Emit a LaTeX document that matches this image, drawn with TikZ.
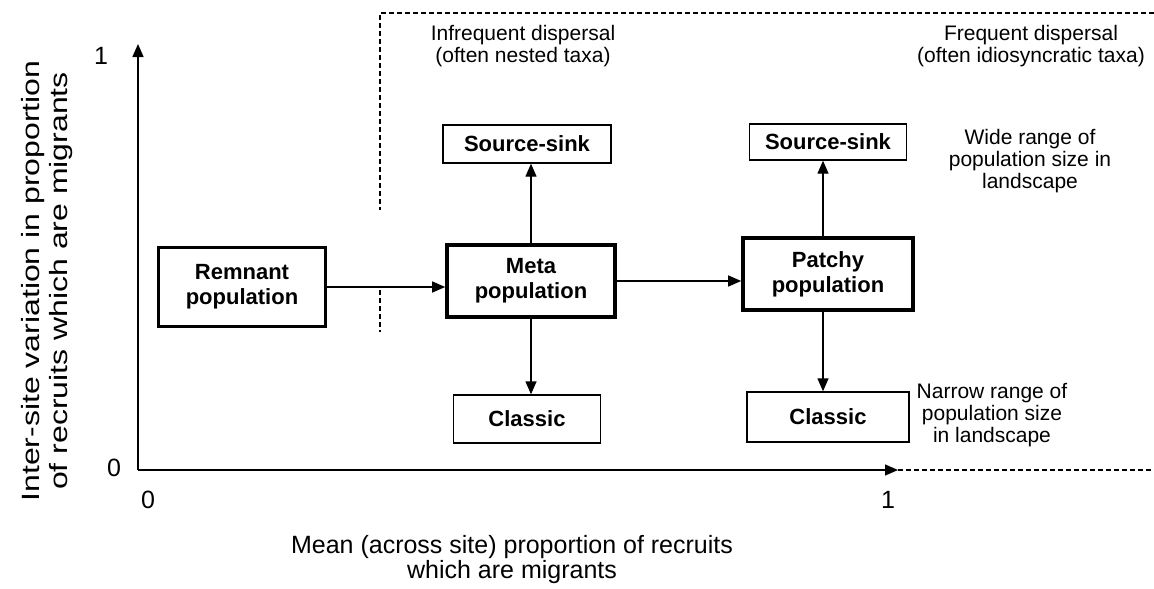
\documentclass[tikz,border=0pt]{standalone}
\usepackage{fontspec}
\setmainfont{Liberation Sans}
\usetikzlibrary{arrows.meta,positioning}

\begin{document}
\begin{tikzpicture}[
  x=1pt, y=-1pt,
  popbox/.style={draw, line width=3.6pt, fill=white, align=center, inner sep=0pt,
                 font=\fontsize{22}{25}\selectfont\bfseries},
  typebox/.style={draw, line width=1.4pt, fill=white, align=center, inner sep=0pt,
                 font=\fontsize{22}{25}\selectfont\bfseries},
  note/.style={align=center, inner sep=0pt, font=\fontsize{21}{22}\selectfont},
  axlabel/.style={align=center, inner sep=0pt, font=\fontsize{25}{25}\selectfont},
  arr/.style={-{Triangle[length=13pt, width=11pt]}, line width=1.4pt},
  region/.style={dashed, line width=1.2pt, dash pattern=on 5pt off 3pt}
]
\useasboundingbox (0,0) rectangle (1154,589);

% dispersal region
\coordinate (regtl) at (380,13);
\coordinate (regtr) at (1154,13);
\draw[region] (regtr) -- (regtl) -- (380,210);
\draw[region] (380,290) -- (380,332);

% axes
\coordinate (orig) at (138,470);
\coordinate (ytip) at (138,44);
\coordinate (xtip) at (898,470);
\coordinate (xend) at (1154,470);
\draw[arr] (orig) -- (ytip);
\draw[arr] (orig) -- (xtip);
\draw[region] (xtip) -- (xend);

\node[axlabel] (y1) at (101,56) {1};
\node[axlabel] (y0) at (114,468) {0};
\node[axlabel] (x0) at (148,500) {0};
\node[axlabel] (x1) at (888,500) {1};
\node[axlabel, rotate=90] (ylab) at (48,281)
  {\scalebox{1.28}[1]{\begin{tabular}{@{}c@{}}Inter-site variation in proportion\\[3pt]of recruits which are migrants\end{tabular}}};
\node[axlabel] (xlab) at (512,560) {Mean (across site) proportion of recruits\\which are migrants};

% population types
\node[popbox, minimum width=167pt, minimum height=79pt] (remnant) at (242,287) {Remnant\\population};
\node[popbox, minimum width=168pt, minimum height=72pt] (meta) at (531,281) {Meta\\population};
\node[popbox, minimum width=170pt, minimum height=72pt] (patchy) at (828,274) {Patchy\\population};
\node[typebox, minimum width=168pt, minimum height=38pt] (sslft) at (527,144) {Source-sink};
\node[typebox, minimum width=157pt, minimum height=36pt] (ssrgt) at (828,142) {Source-sink};
\node[typebox, minimum width=147pt, minimum height=48pt] (cllft) at (527,419) {Classic};
\node[typebox, minimum width=162pt, minimum height=50pt] (clrgt) at (828,417) {Classic};

% notes
\node[note] (infreq) at (523,46) {Infrequent dispersal\\(often nested taxa)};
\node[note] (freq) at (1031,46) {Frequent dispersal\\(often idiosyncratic taxa)};
\node[note] (wide) at (1030,161) {Wide range of\\population size in\\landscape};
\node[note] (narrow) at (992,415) {Narrow range of\\population size\\in landscape};

\draw[arr] (remnant.east) -- (remnant.east -| meta.west);
\draw[arr] (meta.east) -- (meta.east -| patchy.west);
\draw[arr] (meta.north) -- (meta.north |- sslft.south);
\draw[arr] (meta.south) -- (meta.south |- cllft.north);
\draw[arr] ([xshift=-5pt]patchy.north) -- ([xshift=-5pt]patchy.north |- ssrgt.south);
\draw[arr] ([xshift=-5pt]patchy.south) -- ([xshift=-5pt]patchy.south |- clrgt.north);
\end{tikzpicture}
\end{document}
